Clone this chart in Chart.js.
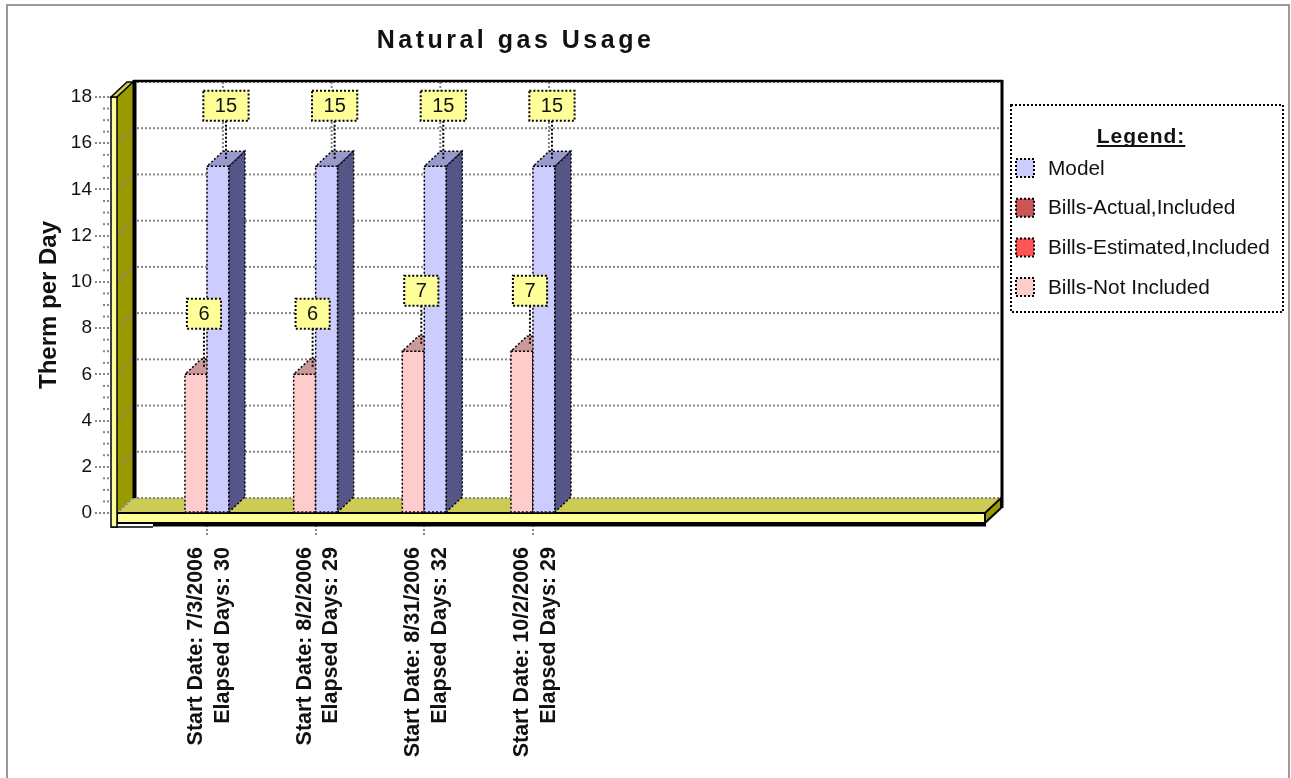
<!DOCTYPE html>
<html>
<head>
<meta charset="utf-8">
<title>Natural gas Usage</title>
<script src="https://cdn.jsdelivr.net/npm/chart.js@4.4.1/dist/chart.umd.min.js"></script>
<style>
  html, body { margin: 0; padding: 0; background: #ffffff; }
  canvas { display: block; }
</style>
</head>
<body>
<canvas id="gasChart" width="1291" height="778"></canvas>
<script>
// Billing periods
const startDates = ['7/3/2006', '8/2/2006', '8/31/2006', '10/2/2006'];
const elapsedDays = [30, 29, 32, 29];

// Therm per day for each series
const modelUsage = [15, 15, 15, 15];
const billsActualIncluded = [null, null, null, null];
const billsEstimatedIncluded = [null, null, null, null];
const billsNotIncluded = [6, 6, 7, 7];

// Value axis ticks
const yTicks = [0, 2, 4, 6, 8, 10, 12, 14, 16, 18];

// Legend order
const legendOrder = ['Model', 'Bills-Actual,Included', 'Bills-Estimated,Included', 'Bills-Not Included'];

// Face colours of the extruded bars: front, top, side
const shades = {
  'Model':                    { front: '#CCCCFF', top: '#9999CC', side: '#555588' },
  'Bills-Actual,Included':    { front: '#CC5555', top: '#994040', side: '#662B2B' },
  'Bills-Estimated,Included': { front: '#FF5555', top: '#CC4444', side: '#882D2D' },
  'Bills-Not Included':       { front: '#FFCCCC', top: '#CC9999', side: '#885555' }
};

const FONT = '"Liberation Sans", Arial, Helvetica, sans-serif';
const DX = 16, DY = -15;          // depth offset of the 3D box
const GRID = '#858585';

const toPoints = arr => arr.map((v, i) => ({ x: i, y: v }));

function poly(ctx, pts, fill, stroke, lw, dash) {
  ctx.save();
  ctx.beginPath();
  ctx.moveTo(pts[0][0], pts[0][1]);
  for (let k = 1; k < pts.length; k++) ctx.lineTo(pts[k][0], pts[k][1]);
  ctx.closePath();
  if (fill) { ctx.fillStyle = fill; ctx.fill(); }
  if (stroke) {
    ctx.strokeStyle = stroke;
    ctx.lineWidth = lw || 1;
    ctx.setLineDash(dash || []);
    ctx.stroke();
  }
  ctx.restore();
}

function line(ctx, x1, y1, x2, y2, color, lw, dash) {
  ctx.save();
  ctx.beginPath();
  ctx.moveTo(x1, y1);
  ctx.lineTo(x2, y2);
  ctx.strokeStyle = color;
  ctx.lineWidth = lw;
  ctx.setLineDash(dash || []);
  ctx.stroke();
  ctx.restore();
}

const solid3d = {
  id: 'solid3d',
  beforeDraw(chart) {
    const ctx = chart.ctx;
    ctx.save();
    ctx.fillStyle = '#ffffff';
    ctx.fillRect(0, 0, chart.width, chart.height);
    ctx.restore();
  },
  beforeDatasetsDraw(chart) {
    const ctx = chart.ctx;
    const { left: L, right: R, top: T, bottom: B } = chart.chartArea;
    const xs = chart.scales.x, ys = chart.scales.y;

    // minor ticks on the value axis
    for (let v = 0.5; v < 18; v += 0.5) {
      if (v % 2 === 0) continue;
      const y = ys.getPixelForValue(v);
      line(ctx, L - 14, y, L, y, GRID, 2, [2, 2]);
    }

    // left wall side face
    poly(ctx, [[L, T], [L + DX, T + DY], [L + DX, B + DY], [L, B]], '#999900');
    // floor top face
    poly(ctx, [[L, B], [R, B], [R + DX, B + DY], [L + DX, B + DY]], '#CCCC55');

    // horizontal grid on wall and back plane
    yTicks.forEach(v => {
      const y = ys.getPixelForValue(v);
      line(ctx, L, y, L + DX, y + DY, GRID, 2, [2, 2]);
      line(ctx, L + DX, y + DY, R + DX, y + DY, GRID, 2, [2, 2]);
    });
    // vertical grid at each billing period on the back plane
    startDates.forEach((d, i) => {
      const x = xs.getPixelForValue(i) + DX;
      line(ctx, x, T + DY, x, B + DY, GRID, 2, [2, 2]);
    });

    // back plane borders
    line(ctx, L + DX + 1.5, T + DY - 2, L + DX + 1.5, B + DY, '#000', 4);
    line(ctx, L + DX, T + DY - 1, R + DX + 2, T + DY - 1, '#000', 2.5);
    line(ctx, R + DX + 1, T + DY - 2, R + DX + 1, B + DY + 10, '#000', 3);

    // floor front and right faces
    poly(ctx, [[L, B], [R, B], [R, B + 10], [L, B + 10]], '#FFFF99', '#000', 2);
    poly(ctx, [[R, B], [R + DX, B + DY], [R + DX, B + DY + 10], [R, B + 10]], '#999900', '#000', 2);
    line(ctx, L + 36, B + 12, R + 1, B + 12, '#000', 3);
    line(ctx, L - 6, B + 14, L + 36, B + 14, '#000', 1.5);

    // left wall front strip and cap
    poly(ctx, [[L - 6, T], [L, T], [L, B + 14], [L - 6, B + 14]], '#FFFF99', '#000', 1.5);
    poly(ctx, [[L - 6, T], [L, T], [L + DX, T + DY], [L - 6 + DX, T + DY]], '#CCCC55', '#000', 1.5);
  },
  afterDatasetsDraw(chart) {
    const ctx = chart.ctx;
    const datasets = chart.data.datasets;
    const boxes = [];

    // extruded bars, left to right so each bar hides the side of its neighbour
    for (let i = 0; i < startDates.length; i++) {
      datasets.forEach((ds, di) => {
        const el = chart.getDatasetMeta(di).data[i];
        if (!el || ds.data[i].y == null) return;
        const { x, y, base, width } = el.getProps(['x', 'y', 'base', 'width'], true);
        const l = x - width / 2, r = x + width / 2;
        const f = shades[ds.label];
        const edge = ['#000', 1.5, [2, 2]];
        poly(ctx, [[l, y], [r, y], [r, base], [l, base]], f.front, ...edge);
        poly(ctx, [[l, y], [r, y], [r + DX, y + DY], [l + DX, y + DY]], f.top, ...edge);
        poly(ctx, [[r, y], [r + DX, y + DY], [r + DX, base + DY], [r, base]], f.side, ...edge);
        boxes.push({ ax: x + DX / 2, ay: y + DY / 2, text: String(ds.data[i].y) });
      });
    }

    // value labels with leader lines
    ctx.save();
    ctx.font = '20px ' + FONT;
    boxes.forEach(b => {
      const tw = ctx.measureText(b.text).width;
      const bw = tw + 23, bh = 30;
      const cy = b.ay - 53;
      line(ctx, b.ax, cy + bh / 2, b.ax, b.ay, '#000', 2, [2, 2]);
      poly(ctx, [[b.ax - bw / 2, cy - bh / 2], [b.ax + bw / 2, cy - bh / 2],
                 [b.ax + bw / 2, cy + bh / 2], [b.ax - bw / 2, cy + bh / 2]],
           '#FFFF99', '#000', 2, [2, 2]);
      ctx.fillStyle = '#111';
      ctx.textAlign = 'center';
      ctx.textBaseline = 'middle';
      ctx.fillText(b.text, b.ax, cy + 1);
    });
    ctx.restore();
  },
  afterDraw(chart) {
    const ctx = chart.ctx;
    const { right: R } = chart.chartArea;

    // heading
    ctx.save();
    ctx.font = 'bold 25px ' + FONT;
    ctx.fillStyle = '#111';
    ctx.textAlign = 'center';
    ctx.textBaseline = 'alphabetic';
    if ('letterSpacing' in ctx) ctx.letterSpacing = '3.5px';
    const tx = (chart.scales.y.left + R + DX) / 2 + 5;
    ctx.fillText('Natural gas Usage', tx, 48);
    ctx.restore();

    // legend box
    const lx = R + DX + 10, ly = 105, lw = 272, lh = 207;
    ctx.save();
    poly(ctx, [[lx, ly], [lx + lw, ly], [lx + lw, ly + lh], [lx, ly + lh]], '#ffffff', '#000', 2, [2, 2]);
    ctx.font = 'bold 21px ' + FONT;
    if ('letterSpacing' in ctx) ctx.letterSpacing = '1px';
    ctx.fillStyle = '#111';
    ctx.textAlign = 'center';
    ctx.textBaseline = 'alphabetic';
    const cx = lx + lw / 2 - 6;
    ctx.fillText('Legend:', cx, 143);
    const hw = ctx.measureText('Legend:').width;
    line(ctx, cx - hw / 2, 146, cx + hw / 2, 146, '#111', 2);
    if ('letterSpacing' in ctx) ctx.letterSpacing = '0px';
    ctx.font = '20.8px ' + FONT;
    ctx.textAlign = 'left';
    ctx.textBaseline = 'middle';
    legendOrder.forEach((name, k) => {
      const cy = 168 + k * 39.7;
      poly(ctx, [[lx + 5, cy - 9], [lx + 23, cy - 9], [lx + 23, cy + 9], [lx + 5, cy + 9]],
           shades[name].front, '#000', 2, [2, 2]);
      ctx.fillStyle = '#111';
      ctx.fillText(name, lx + 37, cy + 1);
    });
    ctx.restore();

    // outer frame
    ctx.save();
    ctx.strokeStyle = '#9a9a9a';
    ctx.lineWidth = 2;
    ctx.strokeRect(7, 5, 1282, 800);
    ctx.restore();
  }
};

Chart.defaults.font.family = FONT;

const seriesData = {
  'Bills-Actual,Included': billsActualIncluded,
  'Bills-Estimated,Included': billsEstimatedIncluded,
  'Bills-Not Included': billsNotIncluded,
  'Model': modelUsage
};

new Chart(document.getElementById('gasChart'), {
  type: 'bar',
  data: {
    datasets: Object.keys(seriesData).map(name => ({
      label: name,
      data: toPoints(seriesData[name]),
      stack: name === 'Model' ? 'model' : 'bills',
      backgroundColor: shades[name].front,
      borderWidth: 0
    }))
  },
  options: {
    responsive: false,
    animation: false,
    devicePixelRatio: 1,
    layout: { padding: { left: 20, right: 306, top: 97, bottom: 10 } },
    datasets: { bar: { barThickness: 22 } },
    plugins: {
      legend: { display: false },
      title: { display: false },
      tooltip: { enabled: false }
    },
    scales: {
      x: {
        type: 'linear',
        min: -0.828,
        max: 7.16,
        offset: false,
        afterBuildTicks: s => { s.ticks = startDates.map((d, i) => ({ value: i })); },
        afterFit: s => { s.height = 255; },
        ticks: {
          autoSkip: false,
          minRotation: 90,
          maxRotation: 90,
          padding: 12,
          labelOffset: -11,
          color: '#111',
          font: { size: 21.5, weight: 'bold', lineHeight: 1.24 },
          callback: v => ['Start Date: ' + startDates[v], 'Elapsed Days: ' + elapsedDays[v]]
        },
        grid: { offset: false, drawOnChartArea: false, tickLength: 22, color: GRID, lineWidth: 2, tickBorderDash: [2, 2] },
        border: { display: false }
      },
      y: {
        min: 0,
        max: 18,
        afterBuildTicks: s => { s.ticks = yTicks.map(v => ({ value: v })); },
        afterFit: s => { s.width = 97; },
        ticks: { padding: 3, color: '#111', font: { size: 19 } },
        grid: { drawOnChartArea: false, tickLength: 22, color: GRID, lineWidth: 2, tickBorderDash: [2, 2] },
        border: { display: false },
        title: {
          display: true,
          text: 'Therm per Day',
          color: '#111',
          font: { size: 24, weight: 'bold' },
          padding: { top: 15, bottom: 0 }
        }
      }
    }
  },
  plugins: [solid3d]
});
</script>
</body>
</html>
